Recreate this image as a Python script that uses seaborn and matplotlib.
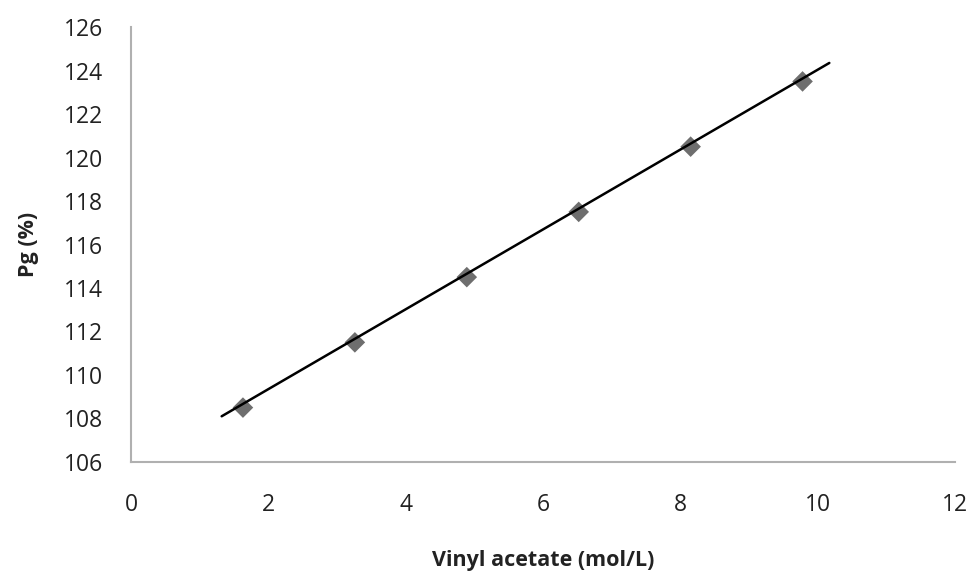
import matplotlib
matplotlib.use("Agg")
import matplotlib.pyplot as plt
import seaborn as sns
import pandas as pd

# Data
vinyl_acetate = [1.63, 3.26, 4.89, 6.52, 8.15, 9.78]
pg_percent = [108.5, 111.5, 114.5, 117.5, 120.5, 123.5]
trend_x = [1.32, 10.17]
trend_y = [108.1, 124.35]
x_ticks = [0, 2, 4, 6, 8, 10, 12]
y_ticks = [106, 108, 110, 112, 114, 116, 118, 120, 122, 124, 126]

sns.set_style("white")
plt.rcParams['font.family'] = ['Open Sans', 'DejaVu Sans']

fig = plt.figure(figsize=(9.72, 5.76), dpi=100)
ax = fig.add_axes([0.1348, 0.198, 0.8477, 0.755])

df = pd.DataFrame({"x": vinyl_acetate, "y": pg_percent})
trend = pd.DataFrame({"x": trend_x, "y": trend_y})

sns.lineplot(data=trend, x="x", y="y", ax=ax, color="black", linewidth=1.8, zorder=3)
sns.scatterplot(data=df, x="x", y="y", ax=ax, marker="D", s=110, color="#6e6e6e",
                edgecolor="none", zorder=2)

ax.set_xlim(0, 12)
ax.set_ylim(106, 126)
ax.set_xticks(x_ticks)
ax.set_yticks(y_ticks)
ax.tick_params(axis="both", length=0, labelsize=16.5, colors="#222222")
ax.tick_params(axis="x", pad=22)
ax.tick_params(axis="y", pad=20)

for side in ["top", "right"]:
    ax.spines[side].set_visible(False)
for side in ["left", "bottom"]:
    ax.spines[side].set_color("#b0b0b0")
    ax.spines[side].set_linewidth(1.5)

ax.set_xlabel("Vinyl acetate (mol/L)", fontsize=15.5, fontweight="bold", labelpad=24, color="#222222")
ax.set_ylabel("Pg (%)", fontsize=15.5, fontweight="bold", labelpad=18, color="#222222")

fig.savefig("out.png", dpi=100, facecolor="white")
